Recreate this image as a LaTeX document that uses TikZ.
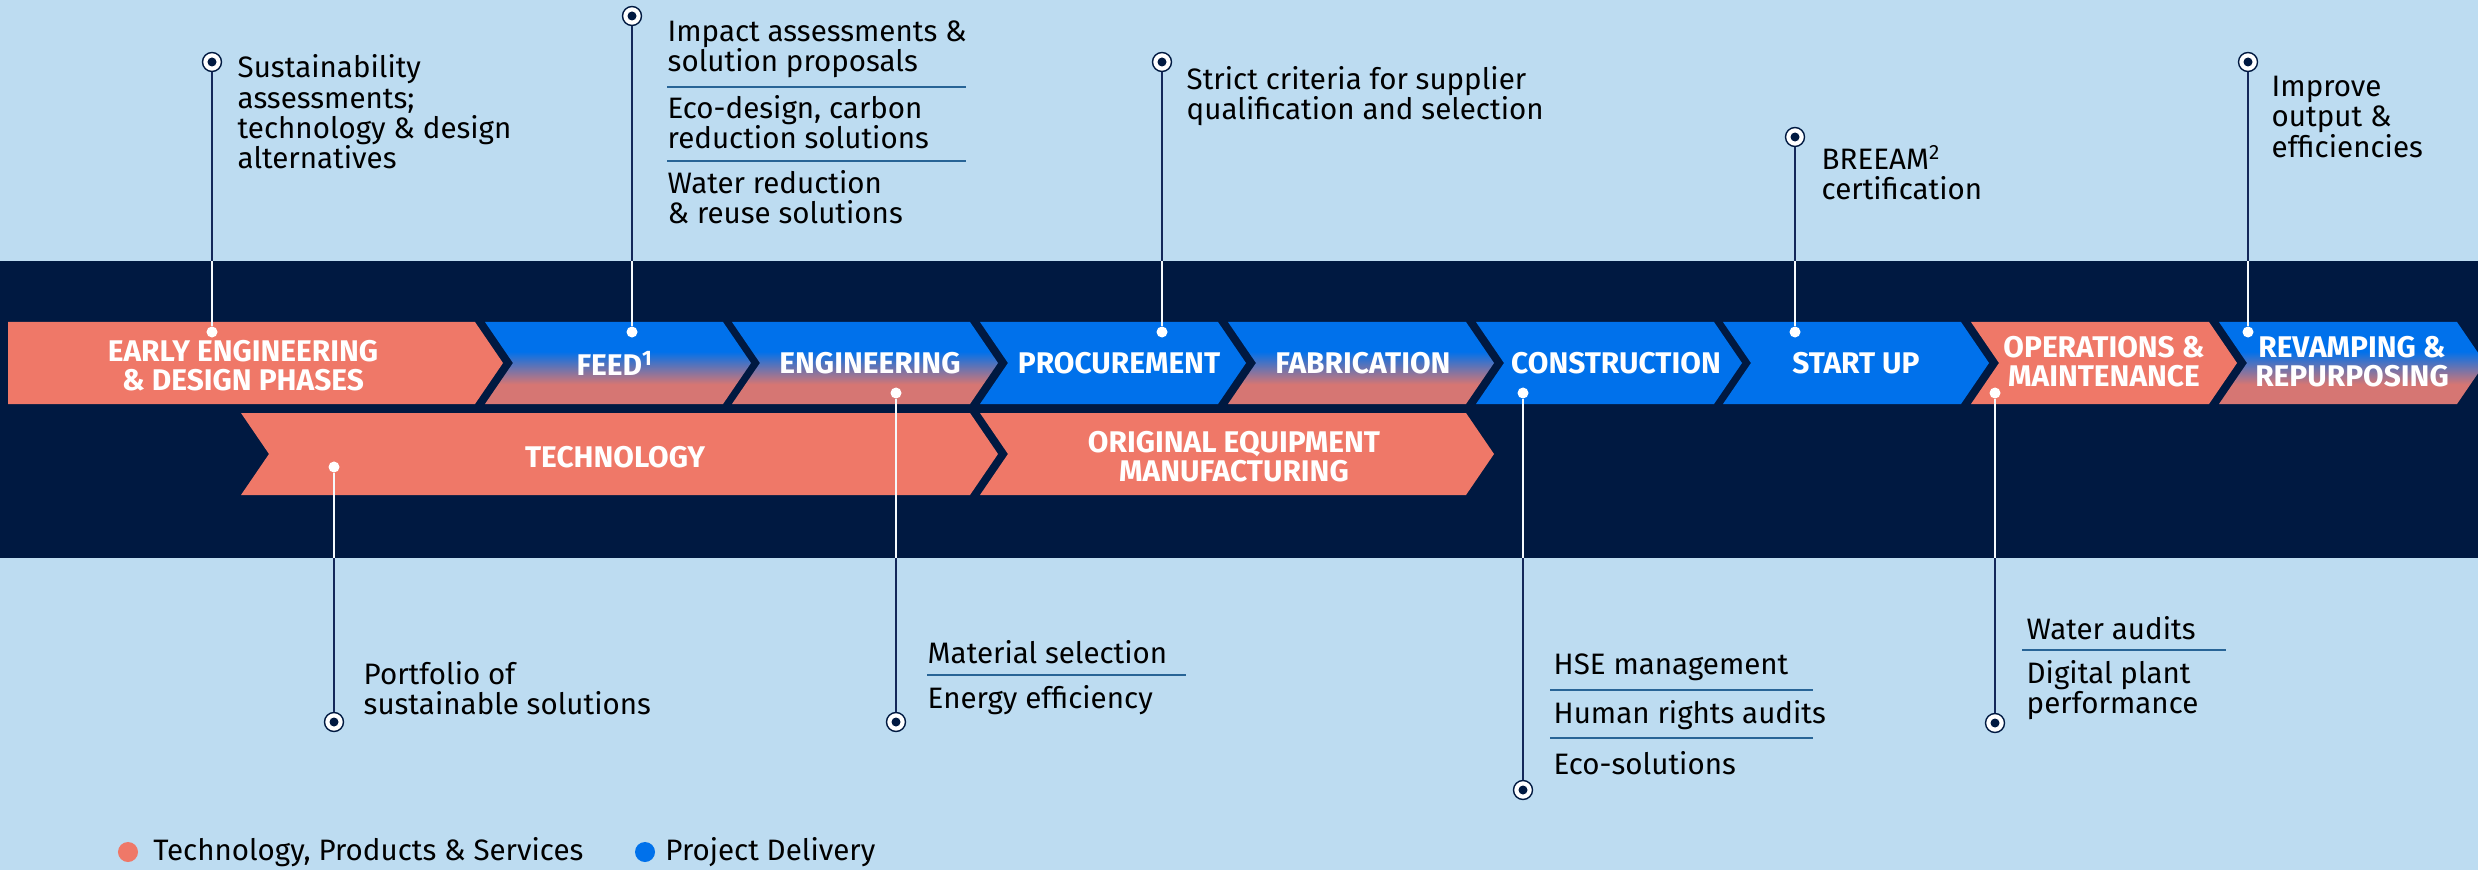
\documentclass[tikz,border=0pt]{standalone}
\usepackage{fontspec}
\setmainfont{Fira Sans}
\usetikzlibrary{positioning}

\definecolor{bgblue}{RGB}{189,220,241}
\definecolor{navy}{RGB}{0,25,65}
\definecolor{salmon}{RGB}{239,120,104}
\definecolor{projblue}{RGB}{0,113,235}
\definecolor{dimsalmon}{RGB}{214,118,115}
\definecolor{wirecol}{RGB}{20,40,90}
\definecolor{rulecol}{RGB}{40,100,150}
\pgfdeclareverticalshading{mixed}{100bp}{color(0bp)=(dimsalmon); color(37bp)=(dimsalmon); color(57bp)=(projblue); color(100bp)=(projblue)}

% #1 fill, #2 left x, #3 top y, #4 body width
\newcommand{\chevron}[4]{%
	\path[#1] (#2,#3) -- ++(#4,0) -- ++(28,41) -- ++(-28,41) -- ++(-#4,0) -- ++(28,-41) -- cycle;}

\begin{document}
\begin{tikzpicture}[x=0.01cm,y=-0.01cm,
		txt/.style={anchor=west,align=left,inner sep=0pt,font=\fontsize{8.4}{8.6}\selectfont,text=black},
		lbl/.style={align=center,inner sep=0pt,font=\fontsize{8.5}{8.2}\selectfont\bfseries,text=white},
		pinhead/.style={circle,draw=navy,fill=white,line width=0.4pt,minimum size=0.19cm,inner sep=0pt,
			path picture={\fill[navy] (path picture bounding box.center) circle (0.045cm);}},
		pindot/.style={circle,fill=white,minimum size=0.11cm,inner sep=0pt},
		pinwire/.style={draw=wirecol,line width=0.4pt},
		pinwirelit/.style={draw=white!85!bgblue,line width=0.4pt},
		rulesep/.style={draw=rulecol,line width=0.6pt},
		legdot/.style={circle,minimum size=0.2cm,inner sep=0pt}]
		\fill[bgblue] (0,0) rectangle (2478,870);
		\useasboundingbox (0,0) rectangle (2478,870);
		\fill[navy] (0,261) rectangle (2478,558);
		\coordinate (bandtop) at (0,261);
		\coordinate (bandbot) at (0,558);

		% top row
		\path[fill=salmon] (8,322) -- (475,322) -- (503,363) -- (475,404) -- (8,404) -- cycle;
		\chevron{shading=mixed}{485}{322}{238}
		\chevron{shading=mixed}{732}{322}{238}
		\chevron{fill=projblue}{980}{322}{238}
		\chevron{shading=mixed}{1228}{322}{238}
		\chevron{fill=projblue}{1476}{322}{238}
		\chevron{fill=projblue}{1723}{322}{238}
		\chevron{fill=salmon}{1971}{322}{238}
		\chevron{shading=mixed}{2219}{322}{238}
		% bottom row
		\chevron{fill=salmon}{241}{413}{729}
		\chevron{fill=salmon}{980}{413}{486}

		\node [lbl] (early) at (243,366) {EARLY ENGINEERING\\\& DESIGN PHASES};
		\node [lbl] (feed) at (615,363) {FEED\textsuperscript{1}};
		\node [lbl] (eng) at (870,363) {ENGINEERING};
		\node [lbl] (proc) at (1119,363) {PROCUREMENT};
		\node [lbl] (fab) at (1363,363) {FABRICATION};
		\node [lbl] (cons) at (1616,363) {CONSTRUCTION};
		\node [lbl] (start) at (1856,363) {START UP};
		\node [lbl] (ops) at (2104,362) {OPERATIONS \&\\MAINTENANCE};
		\node [lbl] (rev) at (2352,362) {REVAMPING \&\\REPURPOSING};
		\node [lbl] (tech) at (615,457) {TECHNOLOGY};
		\node [lbl] (oem) at (1234,457) {ORIGINAL EQUIPMENT\\MANUFACTURING};

		% pins above
		\node [pinhead] (m1) at (212,62) {};
		\node [pindot] (d1) at (212,332) {};
		\node [pinhead] (m2) at (632,16) {};
		\node [pindot] (d2) at (632,332) {};
		\node [pinhead] (m3) at (1162,62) {};
		\node [pindot] (d3) at (1162,332) {};
		\node [pinhead] (m4) at (1795,137) {};
		\node [pindot] (d4) at (1795,332) {};
		\node [pinhead] (m5) at (2248,62) {};
		\node [pindot] (d5) at (2248,332) {};
		% pins below
		\node [pindot] (d6) at (334,467) {};
		\node [pinhead] (m6) at (334,722) {};
		\node [pindot] (d7) at (896,393) {};
		\node [pinhead] (m7) at (896,722) {};
		\node [pindot] (d8) at (1523,393) {};
		\node [pinhead] (m8) at (1523,790) {};
		\node [pindot] (d9) at (1995,393) {};
		\node [pinhead] (m9) at (1995,723) {};

		\foreach \i in {1,...,5} {
			\draw [pinwire] (m\i) -- (m\i |- bandtop);
			\draw [pinwirelit] (m\i |- bandtop) -- (d\i);
		}
		\foreach \i in {6,...,9} {
			\draw [pinwirelit] (d\i) -- (d\i |- bandbot);
			\draw [pinwire] (d\i |- bandbot) -- (m\i);
		}

		% texts above
		\node [txt] (sust) at (237,112) {Sustainability\\assessments;\\technology \& design\\alternatives};
		\node [txt] (impact) at (667,49) {Impact assessments \&\\solution proposals};
		\node [txt] (ecodes) at (667,122) {Eco-design, carbon\\reduction solutions};
		\node [txt] (water) at (667,197) {Water reduction\\\& reuse solutions};
		\draw [rulesep] (667,87) -- (966,87);
		\draw [rulesep] (667,161) -- (966,161);
		\node [txt] (strict) at (1186,96) {Strict criteria for supplier\\qualification and selection};
		\node [txt] (breeam) at (1821,173) {BREEAM\textsuperscript{2}\\certification};
		\node [txt] (improve) at (2271,117) {Improve\\output \&\\efficiencies};

		% texts below
		\node [txt] (portf) at (363,688) {Portfolio of\\sustainable solutions};
		\node [txt] (matsel) at (927,652) {Material selection};
		\node [txt] (energy) at (927,700) {Energy efficiency};
		\draw [rulesep] (927,675) -- (1186,675);
		\node [txt] (hse) at (1553,667) {HSE management};
		\node [txt] (human) at (1553,715) {Human rights audits};
		\node [txt] (ecosol) at (1553,763) {Eco-solutions};
		\draw [rulesep] (1550,690) -- (1813,690);
		\draw [rulesep] (1550,738) -- (1813,738);
		\node [txt] (wataud) at (2026,628) {Water audits};
		\node [txt] (digital) at (2026,690) {Digital plant\\performance};
		\draw [rulesep] (2022,650) -- (2226,650);

		% legend
		\node [legdot,fill=salmon] (lega) at (128,852) {};
		\node [txt,right=0.14cm of lega] (legatext) {Technology, Products \& Services};
		\node [legdot,fill=projblue] (legb) at (645,852) {};
		\node [txt,right=0.09cm of legb] (legbtext) {Project Delivery};
	\end{tikzpicture}
\end{document}
